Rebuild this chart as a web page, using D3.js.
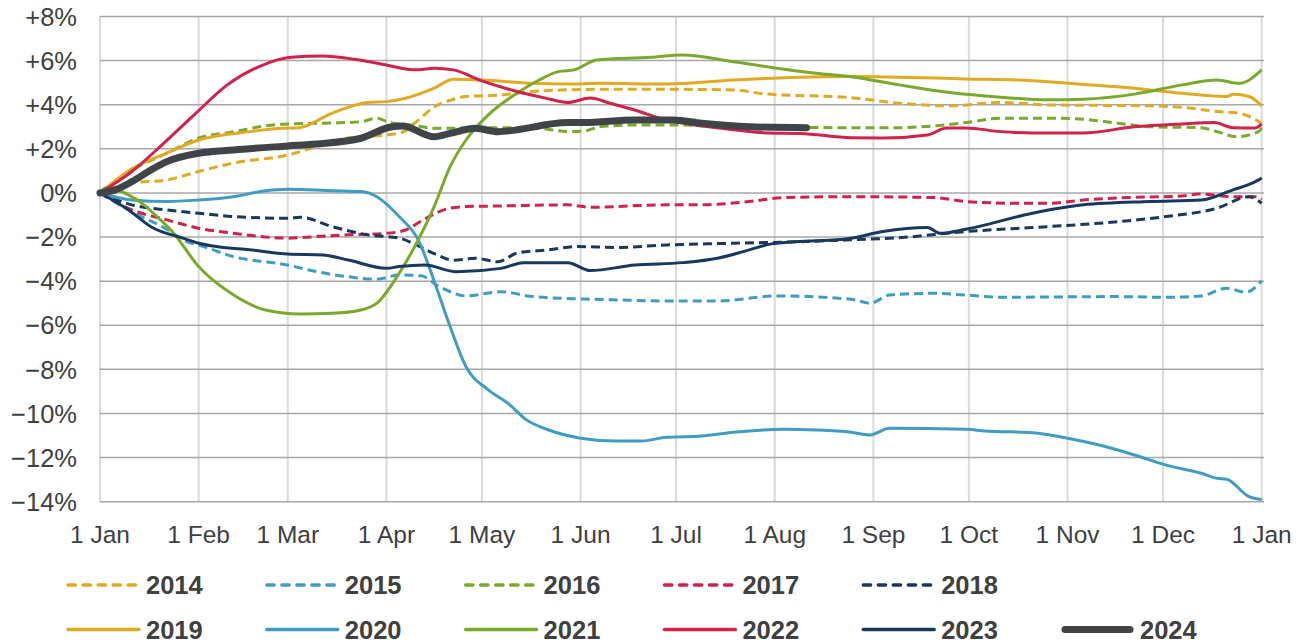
<!DOCTYPE html>
<html>
<head>
<meta charset="utf-8">
<script src="https://cdn.jsdelivr.net/npm/d3@7"></script>
<style>
  body { margin: 0; background: #fff; }
  text { font-family: "Liberation Sans", Arial, sans-serif; fill: #404040; }
</style>
</head>
<body>
<svg id="chart" width="1307" height="644"></svg>
<script>
// tick labels
var monthLabels = ["1 Jan", "1 Feb", "1 Mar", "1 Apr", "1 May", "1 Jun", "1 Jul", "1 Aug", "1 Sep", "1 Oct", "1 Nov", "1 Dec", "1 Jan"];
var yTicks = [8, 6, 4, 2, 0, -2, -4, -6, -8, -10, -12, -14];

// series: [day of year, % change since 1 Jan]
var y2014 = [[0,0],[10,0.45],[21,0.59],[31,0.97],[42,1.36],[59,1.72],[68,2.1],[78,2.49],[90,2.63],[95,2.75],[100,3.3],[105,3.9],[110,4.2],[115,4.37],[126,4.44],[136,4.6],[157,4.7],[178,4.7],[199,4.67],[209,4.49],[236,4.32],[251,4.07],[267,3.95],[283,4.1],[298,3.99],[330,3.95],[343,3.84],[351,3.69],[358,3.61],[365,3.16]];
var y2015 = [[0,0],[10,-0.85],[21,-1.65],[27,-2.2],[31,-2.36],[42,-2.89],[59,-3.27],[68,-3.57],[78,-3.8],[87,-3.91],[94,-3.72],[101,-3.76],[106,-4.2],[110,-4.48],[115,-4.67],[126,-4.48],[136,-4.7],[152,-4.81],[162,-4.85],[178,-4.9],[194,-4.9],[213,-4.67],[236,-4.82],[242,-5.0],[248,-4.63],[262,-4.55],[272,-4.63],[283,-4.73],[319,-4.7],[335,-4.73],[346,-4.67],[354,-4.32],[360,-4.5],[365,-3.98]];
var y2016 = [[0,0],[10,1.04],[21,1.8],[31,2.49],[42,2.77],[52,3.04],[59,3.13],[73,3.17],[82,3.23],[87,3.39],[91,3.19],[100,3.04],[105,2.93],[126,2.96],[138,2.93],[147,2.78],[152,2.8],[157,3.0],[168,3.08],[183,3.08],[199,3.0],[236,2.96],[251,2.96],[262,3.04],[272,3.19],[283,3.39],[298,3.39],[309,3.34],[320,3.16],[330,3.0],[346,2.96],[351,2.78],[357,2.55],[364,2.78],[365,2.96]];
var y2017 = [[0,0],[10,-0.77],[21,-1.22],[31,-1.6],[42,-1.83],[59,-2.05],[68,-1.98],[78,-1.9],[90,-1.83],[96,-1.68],[100,-1.35],[110,-0.69],[115,-0.62],[126,-0.59],[147,-0.54],[154,-0.65],[178,-0.54],[189,-0.54],[204,-0.39],[215,-0.21],[236,-0.17],[262,-0.21],[272,-0.39],[288,-0.47],[298,-0.47],[309,-0.32],[325,-0.2],[340,-0.14],[345,-0.05],[356,-0.17],[363,-0.17],[365,-0.3]];
var y2018 = [[0,0],[10,-0.54],[21,-0.77],[31,-0.92],[42,-1.07],[59,-1.15],[63,-1.1],[73,-1.53],[84,-1.9],[94,-2.05],[100,-2.4],[105,-2.75],[111,-3.05],[118,-2.96],[125,-3.12],[131,-2.73],[141,-2.58],[150,-2.43],[162,-2.47],[178,-2.36],[199,-2.28],[220,-2.21],[236,-2.12],[251,-2.03],[272,-1.75],[293,-1.57],[320,-1.3],[335,-1.07],[351,-0.69],[361,-0.17],[365,-0.47]];
var y2019 = [[0,0],[10,1.1],[20,1.75],[31,2.4],[47,2.78],[59,2.95],[62,2.95],[73,3.62],[84,4.1],[90,4.14],[96,4.29],[105,4.75],[111,5.15],[120,5.12],[136,4.97],[147,4.94],[157,4.97],[178,4.94],[199,5.12],[220,5.25],[236,5.28],[272,5.17],[293,5.09],[304,4.97],[325,4.75],[340,4.52],[354,4.37],[356,4.47],[361,4.37],[365,3.95]];
var y2020 = [[0,0],[10,-0.32],[21,-0.39],[31,-0.32],[42,-0.17],[52,0.1],[59,0.17],[73,0.1],[82,0.06],[87,-0.17],[94,-1.07],[100,-2.13],[105,-4.0],[110,-6.06],[115,-7.88],[122,-8.93],[128,-9.52],[134,-10.29],[141,-10.75],[151,-11.12],[162,-11.25],[170,-11.25],[178,-11.08],[189,-11.02],[199,-10.85],[215,-10.72],[225,-10.75],[236,-10.85],[242,-10.97],[248,-10.67],[272,-10.72],[278,-10.79],[293,-10.87],[304,-11.12],[314,-11.43],[325,-11.88],[335,-12.34],[346,-12.71],[351,-12.94],[354,-12.98],[361,-13.77],[365,-13.9]];
var y2021 = [[0,0],[2,0.25],[6,0.1],[13,-0.45],[19,-1.22],[23,-1.8],[31,-3.34],[42,-4.63],[52,-5.31],[63,-5.49],[73,-5.46],[82,-5.31],[87,-5.0],[94,-3.64],[100,-2.13],[105,-0.62],[110,1.19],[115,2.4],[122,3.54],[131,4.52],[138,5.12],[144,5.5],[149,5.58],[156,6.03],[173,6.15],[183,6.26],[199,5.95],[215,5.61],[225,5.43],[236,5.27],[251,4.9],[267,4.55],[283,4.34],[298,4.22],[309,4.25],[325,4.48],[340,4.9],[351,5.12],[358,4.97],[365,5.58]];
var y2022 = [[0,0],[10,0.97],[20,2.25],[30,3.6],[40,4.9],[50,5.73],[60,6.15],[70,6.21],[80,6.06],[90,5.8],[97,5.6],[100,5.58],[105,5.65],[111,5.58],[120,5.08],[131,4.6],[140,4.3],[147,4.1],[154,4.3],[160,4.08],[168,3.76],[178,3.3],[190,3.02],[199,2.86],[210,2.72],[220,2.7],[236,2.5],[246,2.49],[260,2.63],[266,2.95],[272,2.95],[283,2.78],[293,2.72],[309,2.72],[325,3.0],[340,3.13],[350,3.19],[356,2.96],[363,2.95],[365,3.13]];
var y2023 = [[0,0],[9,-0.77],[16,-1.53],[26,-2.05],[31,-2.28],[37,-2.44],[47,-2.58],[59,-2.77],[70,-2.81],[78,-3.04],[90,-3.42],[94,-3.34],[102,-3.27],[112,-3.57],[126,-3.42],[133,-3.16],[147,-3.16],[154,-3.52],[168,-3.27],[183,-3.16],[194,-2.96],[204,-2.58],[211,-2.31],[236,-2.05],[246,-1.75],[260,-1.57],[264,-1.83],[272,-1.65],[293,-0.92],[309,-0.54],[330,-0.39],[346,-0.32],[356,0.14],[362,0.44],[365,0.67]];
var y2024 = [[0,0],[5,0.15],[10,0.51],[16,1.04],[21,1.42],[31,1.8],[42,1.95],[59,2.13],[68,2.22],[82,2.48],[91,2.98],[95,3.04],[105,2.55],[110,2.7],[118,2.93],[125,2.78],[147,3.19],[152,3.19],[168,3.31],[180,3.31],[189,3.16],[204,3.0],[222,2.96]];

var years = ["2014", "2015", "2016", "2017", "2018", "2019", "2020", "2021", "2022", "2023", "2024"];
var seriesData = [y2014, y2015, y2016, y2017, y2018, y2019, y2020, y2021, y2022, y2023, y2024];

// look
var colorOf = { gold: "#e0aa22", blue: "#3f9dc4", green: "#7aaa2c", red: "#d2214a", navy: "#18395f", grey: "#3f4448" };
var styles = [
  {c: colorOf.gold, dash: true}, {c: colorOf.blue, dash: true}, {c: colorOf.green, dash: true},
  {c: colorOf.red, dash: true}, {c: colorOf.navy, dash: true},
  {c: colorOf.gold}, {c: colorOf.blue}, {c: colorOf.green}, {c: colorOf.red}, {c: colorOf.navy},
  {c: colorOf.grey, w: 7}
];

var svg = d3.select("#chart");
var plotLeft = 100, plotRight = 1261.7, plotTop = 16.5, plotBottom = 501.7;
var start = new Date(2023, 0, 1);

var x = d3.scaleTime()
  .domain([start, new Date(2024, 0, 1)])
  .range([plotLeft, plotRight]);
var y = d3.scaleLinear()
  .domain([-14, 8])
  .range([plotBottom, plotTop]);

function dayDate(d) { return d3.timeDay.offset(start, d); }

// vertical grid
var months = d3.timeMonth.range(start, new Date(2024, 0, 2));
svg.append("g").selectAll("line")
  .data(months).enter().append("line")
  .attr("x1", function(d) { return x(d); })
  .attr("x2", function(d) { return x(d); })
  .attr("y1", plotTop).attr("y2", plotBottom)
  .attr("stroke", "#dadada").attr("stroke-width", 2);

// horizontal grid
svg.append("g").selectAll("line")
  .data(yTicks).enter().append("line")
  .attr("x1", plotLeft).attr("x2", plotRight + 2.5)
  .attr("y1", function(d) { return y(d); })
  .attr("y2", function(d) { return y(d); })
  .attr("stroke", "#a8a8a8").attr("stroke-width", 1.5);

// y labels
svg.append("g").selectAll("text")
  .data(yTicks).enter().append("text")
  .attr("x", 77)
  .attr("y", function(d) { return y(d); })
  .attr("dy", "0.36em")
  .attr("text-anchor", "end")
  .style("font-size", "25.5px")
  .text(function(d) { return d > 0 ? "+" + d + "%" : d < 0 ? "\u2212" + (-d) + "%" : "0%"; });

// x labels
svg.append("g").selectAll("text")
  .data(months).enter().append("text")
  .attr("x", function(d) { return x(d); })
  .attr("y", 543)
  .attr("text-anchor", "middle")
  .style("font-size", "24.5px")
  .text(function(d, i) { return monthLabels[i]; });

// lines
var line = d3.line()
  .x(function(d) { return x(dayDate(d[0])); })
  .y(function(d) { return y(d[1]); })
  .curve(d3.curveMonotoneX);

var lines = svg.append("g");
seriesData.forEach(function(data, i) {
  var s = styles[i];
  lines.append("path")
    .datum(data)
    .attr("fill", "none")
    .attr("stroke", s.c)
    .attr("stroke-width", s.w || 3)
    .attr("stroke-dasharray", s.dash ? "9,5" : null)
    .attr("stroke-linejoin", "round")
    .attr("stroke-linecap", s.w ? "round" : "butt")
    .attr("d", line);
});

// legend
var legend = svg.append("g");
years.forEach(function(name, i) {
  var s = styles[i];
  var row = i < 5 ? 0 : 1;
  var col = i < 5 ? i : i - 5;
  var lx = 68 + col * 198.8;
  var ly = row === 0 ? 585 : 629.5;
  legend.append("line")
    .attr("x1", lx + (s.w ? 3 : 0)).attr("x2", lx + 71 - (s.w ? 3 : 0))
    .attr("y1", ly).attr("y2", ly)
    .attr("stroke", s.c)
    .attr("stroke-width", s.w || 3.3)
    .attr("stroke-linecap", "round")
    .attr("stroke-dasharray", s.dash ? "7.5,7.5" : null);
  legend.append("text")
    .attr("x", lx + 78)
    .attr("y", ly + 9.2)
    .style("font-size", "25.5px")
    .style("font-weight", "bold")
    .text(name);
});
</script>
</body>
</html>
